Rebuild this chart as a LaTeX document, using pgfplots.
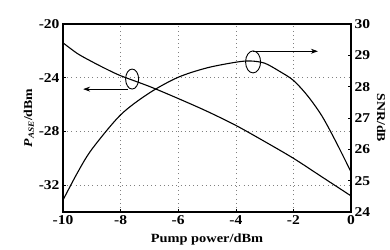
\documentclass[border=0pt]{standalone}
\usepackage{fontspec}
\setmainfont{Liberation Serif}[FakeStretch=1.15]
\usepackage{pgfplots}
\pgfplotsset{compat=1.18}
\usetikzlibrary{arrows.meta}
\begin{document}
\begin{tikzpicture}
\pgfplotsset{every axis/.append style={scale only axis, width=288pt, height=188pt,
  xmin=-10, xmax=0,
  /pgf/number format/assume math mode=true,
  tick label style={font=\fontsize{13.5}{15}\selectfont\bfseries},
  label style={font=\fontsize{12.5}{14}\selectfont\bfseries},
  axis line style={line width=1.2pt},
  tick align=inside, major tick length=3pt, tick style={black, line width=0.6pt}}}
\begin{axis}[name=ax,
  ymin=-34, ymax=-20, ytick={-32,-28,-24,-20},
  xtick={-10,-8,-6,-4,-2,0},
  ytick pos=left, xtick pos=bottom,
  grid=major, grid style={gray, line width=0.6pt, dash pattern=on 0.7pt off 3.5pt},
  xlabel={Pump power/dBm},
  ylabel={\textit{P}\textsubscript{\textit{ASE}}/dBm},
  xlabel style={yshift=-2pt},
  ylabel style={yshift=-2pt, font=\fontsize{12}{14}\selectfont\bfseries}]
\addplot[black, line width=1.1pt, smooth] coordinates {
(-10,-21.4) (-9.5,-22.2) (-9,-22.8) (-8.5,-23.35) (-8,-23.85) (-7,-24.65) (-6,-25.55) (-5,-26.5)
(-4,-27.55) (-3,-28.75) (-2,-30.0) (-1,-31.4) (0,-32.8)};
\draw[line width=0.9pt] (axis cs:-7.6,-24.1) ellipse [x radius=6.5pt, y radius=10pt];
\draw[line width=0.9pt, -{Stealth[length=7pt,width=5pt]}] (axis cs:-7.75,-24.85) -- (axis cs:-9.3,-24.85);
\end{axis}
\begin{axis}[
  ymin=24, ymax=30, ytick={24,25,...,30},
  axis x line=none, axis y line*=right,
  ylabel={SNR/dB}, ylabel style={rotate=180, font=\fontsize{12}{14}\selectfont\bfseries}]
\addplot[black, line width=1.1pt, smooth] coordinates {
(-10,24.38) (-9.5,25.25) (-9,26.0) (-8,27.1) (-7,27.8) (-6,28.3) (-5,28.6)
(-4,28.78) (-3.5,28.82) (-3,28.75) (-2.5,28.5) (-2,28.2) (-1.5,27.7)
(-1,27.05) (-0.5,26.2) (0,25.28)};
\draw[line width=0.9pt] (axis cs:-3.4,28.79) ellipse [x radius=7.5pt, y radius=11pt];
\draw[line width=0.9pt, -{Stealth[length=7pt,width=5pt]}] (axis cs:-3.4,29.13) -- (axis cs:-1.15,29.13);
\end{axis}
\pgfresetboundingbox
\path ([shift={(-63pt,-38pt)}]ax.south west) rectangle ([shift={(39pt,24pt)}]ax.north east);
\end{tikzpicture}
\end{document}
